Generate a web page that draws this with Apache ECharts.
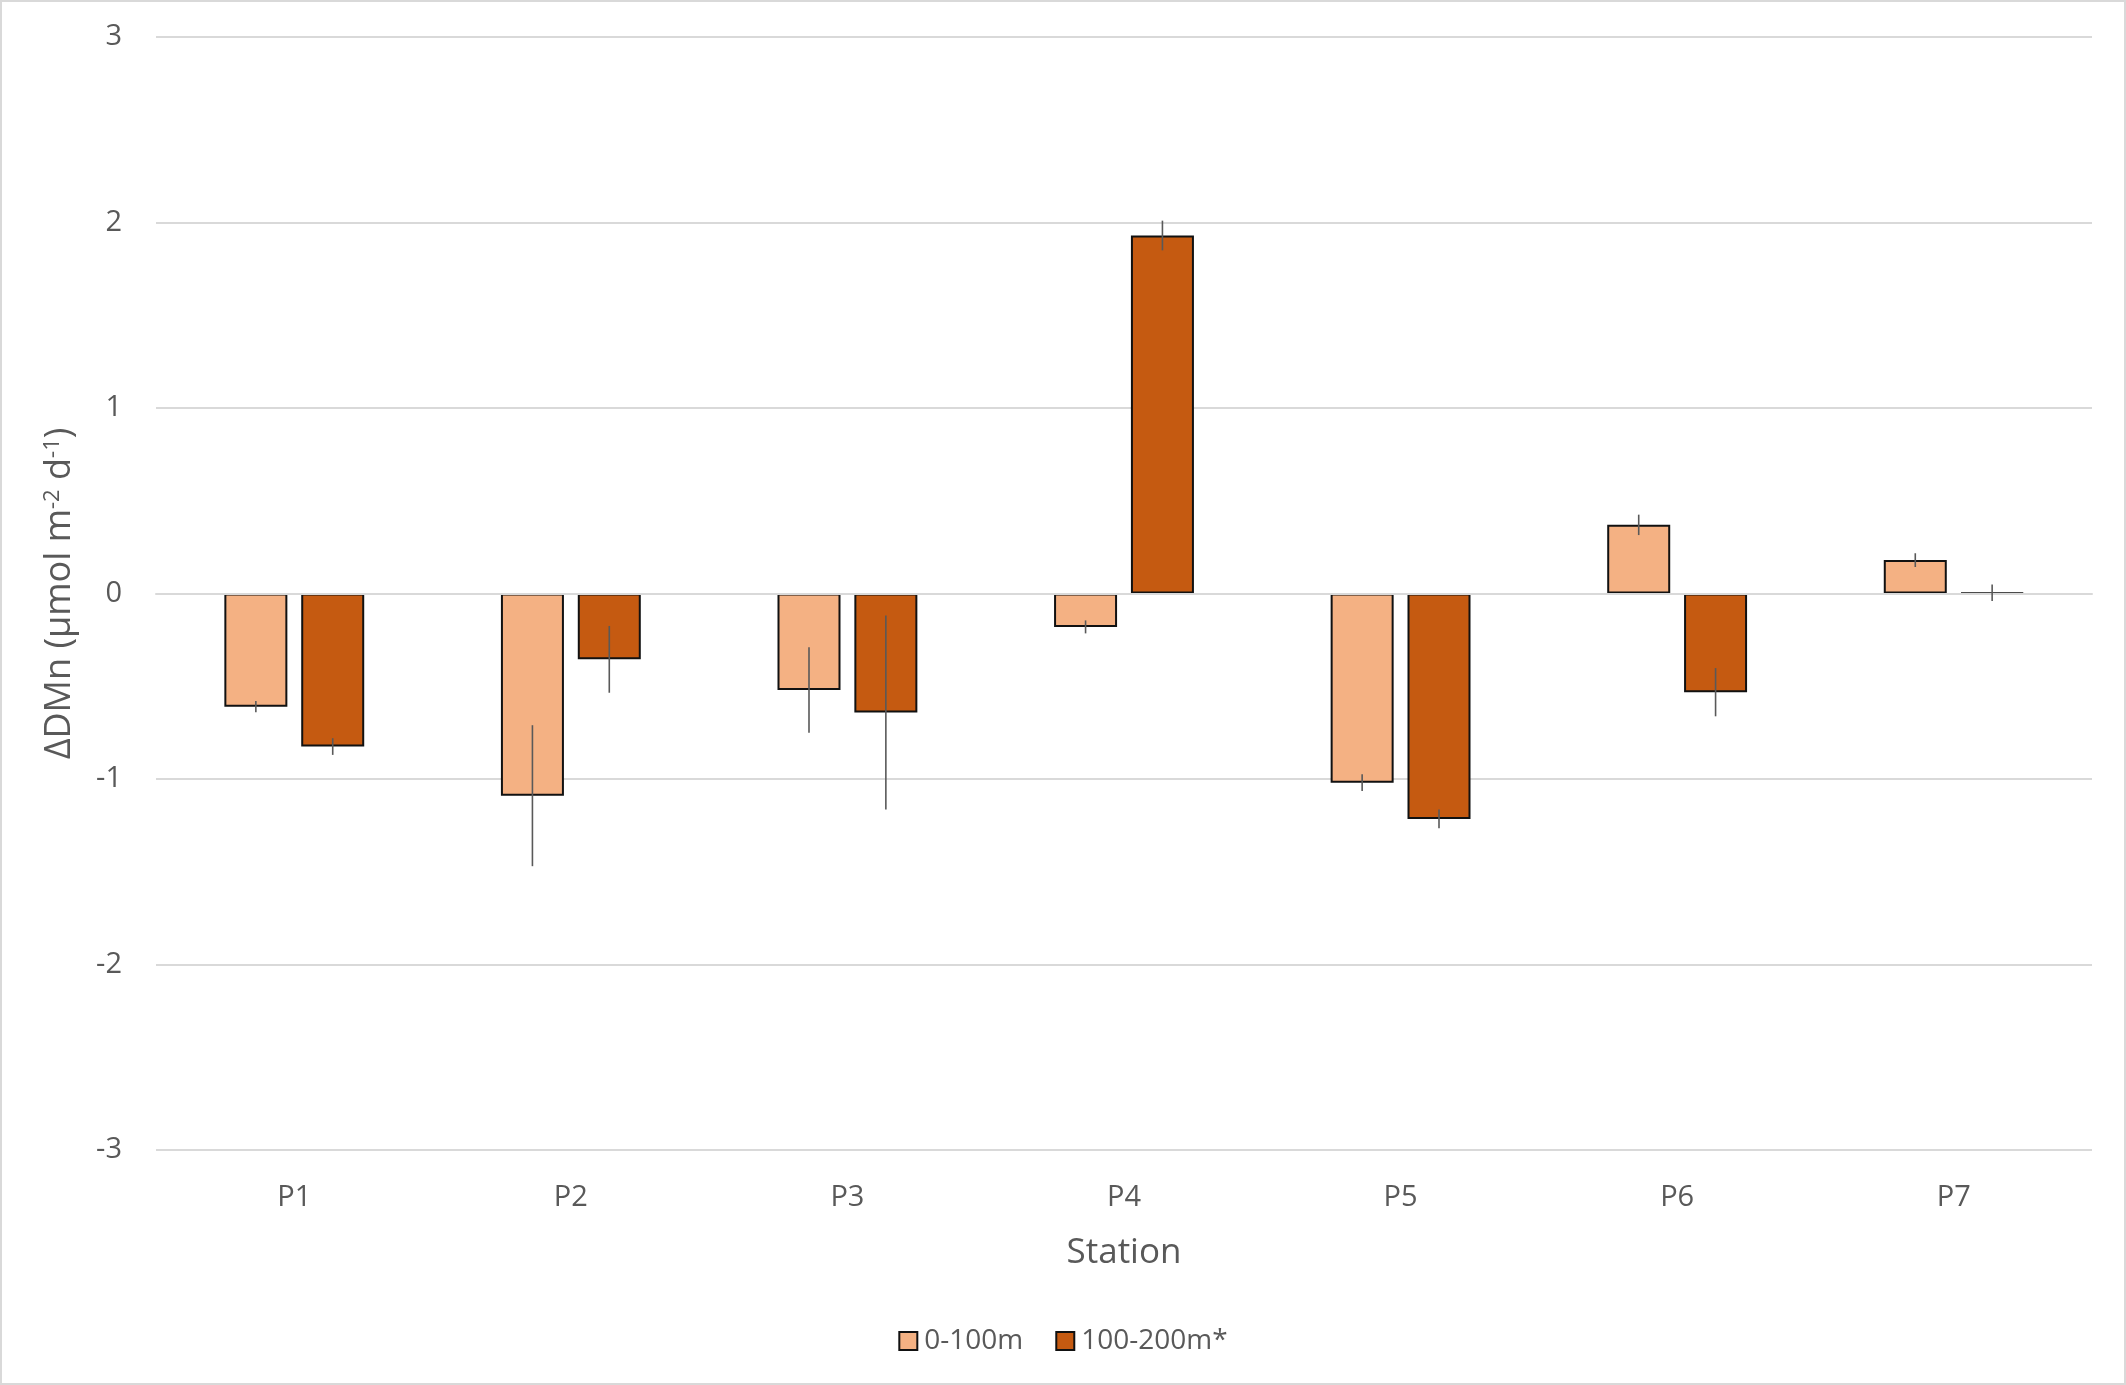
<!DOCTYPE html>
<html>
<head>
<meta charset="utf-8">
<script src="https://cdn.jsdelivr.net/npm/echarts@6/dist/echarts.min.js"></script>
<style>
  html, body { margin: 0; padding: 0; background: #fff; }
  #chart { width: 2126px; height: 1385px; box-sizing: border-box; border: 2px solid #d9d9d9; }
</style>
</head>
<body>
<div id="chart"></div>
<script>
// stations
const stations = ['P1', 'P2', 'P3', 'P4', 'P5', 'P6', 'P7'];

// ΔDMn, 0-100m layer
const shallow = [-0.61, -1.09, -0.52, -0.18, -1.02, 0.37, 0.18];
const shallowErr = [0.03, 0.38, 0.23, 0.035, 0.045, 0.055, 0.037];

// ΔDMn, 100-200m layer
const deep = [-0.825, -0.355, -0.642, 1.93, -1.215, -0.532, 0.004];
const deepErr = [0.045, 0.18, 0.523, 0.08, 0.05, 0.13, 0.045];

const seriesNames = ['0-100m', '100-200m*'];
const yTicks = [-3, -2, -1, 0, 1, 2, 3];

const FONT = '"Open Sans", "Noto Sans", sans-serif';
const GREY = '#595959';
const BAR_W = 63;
const BAR_GAP = 0.22;

// offset of bar i (0 or 1) from the category centre
const barOffset = (i) => (i - 0.5) * BAR_W * (1 + BAR_GAP);

const errSeries = (name, vals, errs, idx) => ({
  type: 'custom',
  name: name,
  xAxisIndex: 0,
  z: 4,
  silent: true,
  data: vals.map((v, k) => [k, v, errs[k]]),
  renderItem: (params, api) => {
    const c = api.value(0);
    const v = api.value(1);
    const e = api.value(2);
    const top = api.coord([c, v + e]);
    const bot = api.coord([c, v - e]);
    const x = top[0] + barOffset(idx);
    return {
      type: 'line',
      shape: { x1: x, y1: top[1], x2: x, y2: bot[1] },
      style: { stroke: GREY, lineWidth: 1.6 }
    };
  }
});

const chart = echarts.init(document.getElementById('chart'));
chart.setOption({
  animation: false,
  backgroundColor: '#fff',
  textStyle: { fontFamily: FONT },
  grid: { left: 154, right: 32, top: 35, bottom: 233 },
  legend: {
    data: seriesNames,
    top: 1320,
    left: 'center',
    icon: 'rect',
    itemWidth: 18,
    itemHeight: 18,
    itemGap: 32,
    textStyle: { fontSize: 28, color: GREY, fontFamily: FONT, padding: [0, 0, 0, 2] }
  },
  xAxis: [
    {
      type: 'category',
      data: stations,
      axisLine: { show: false, onZero: false },
      axisTick: { show: false },
      axisLabel: { fontSize: 29, color: GREY, margin: 33 },
      name: 'Station',
      nameLocation: 'middle',
      nameGap: 86,
      nameTextStyle: { fontSize: 35, color: GREY }
    },
    {
      type: 'category',
      data: stations,
      position: 'top',
      z: 3,
      axisLine: { show: true, onZero: true, lineStyle: { color: '#d9d9d9', width: 2 } },
      axisTick: { show: false },
      axisLabel: { show: false }
    }
  ],
  yAxis: {
    type: 'value',
    min: yTicks[0],
    max: yTicks[yTicks.length - 1],
    interval: 1,
    axisLine: { show: false },
    axisTick: { show: false },
    axisLabel: { fontSize: 29, color: GREY, margin: 34 },
    splitLine: { lineStyle: { color: '#d9d9d9', width: 2 } },
    name: '{t|ΔDMn (µmol m}{s|-2}{t| d}{s|-1}{t|)}',
    nameLocation: 'middle',
    nameGap: 78,
    nameTextStyle: {
      rich: {
        t: { fontSize: 36, color: GREY, fontFamily: FONT, lineHeight: 40, verticalAlign: 'bottom' },
        s: { fontSize: 22, color: GREY, fontFamily: FONT, lineHeight: 40, verticalAlign: 'top', padding: [4, 0, 0, 0] }
      }
    }
  },
  series: [
    {
      type: 'bar',
      name: seriesNames[0],
      data: shallow,
      barWidth: BAR_W,
      barGap: (BAR_GAP * 100) + '%',
      itemStyle: { color: '#F4B183', borderColor: '#111', borderWidth: 2 }
    },
    {
      type: 'bar',
      name: seriesNames[1],
      data: deep,
      barWidth: BAR_W,
      barGap: (BAR_GAP * 100) + '%',
      itemStyle: { color: '#C55A11', borderColor: '#111', borderWidth: 2 }
    },
    errSeries('err0', shallow, shallowErr, 0),
    errSeries('err1', deep, deepErr, 1)
  ]
});
</script>
</body>
</html>
